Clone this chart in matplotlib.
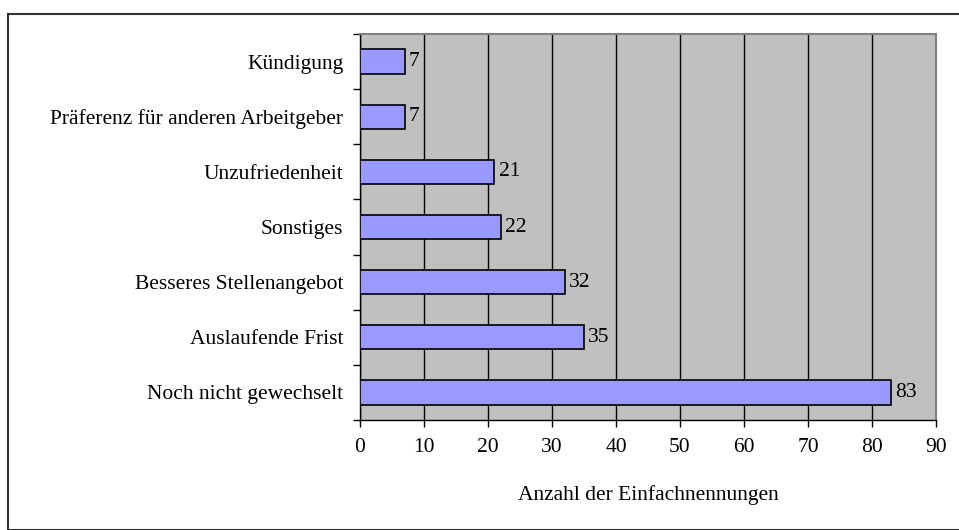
import matplotlib
matplotlib.use("Agg")
import matplotlib.pyplot as plt
from matplotlib.patches import Rectangle
import numpy as np

categories = [
    "Noch nicht gewechselt",
    "Auslaufende Frist",
    "Besseres Stellenangebot",
    "Sonstiges",
    "Unzufriedenheit",
    "Präferenz für anderen Arbeitgeber",
    "Kündigung",
]
counts = [83, 35, 32, 22, 21, 7, 7]
x_ticks = [0, 10, 20, 30, 40, 50, 60, 70, 80, 90]

plt.rcParams["font.family"] = ["Liberation Serif", "DejaVu Serif"]
FS = 15.5

fig = plt.figure(figsize=(9.59, 5.30), dpi=100)
fig.patches.append(Rectangle((8 / 959, 0), 1.0, 1 - 14 / 530, transform=fig.transFigure,
                             fill=False, edgecolor="#333333", linewidth=1.5, clip_on=False))

ax = fig.add_axes([360 / 959, 1 - 420 / 530, 576 / 959, 386 / 530])
ax.set_facecolor("#C0C0C0")

y = np.arange(len(categories))
ax.barh(y, counts, height=0.44, color="#9999FF", edgecolor="black", linewidth=1.2, zorder=3)
for yi, v in zip(y, counts):
    ax.annotate(str(v), (v, yi), xytext=(3, 0), textcoords="offset points",
                va="center", ha="left", fontsize=FS)

ax.set_xlim(0, 90)
ax.set_ylim(-0.5, len(categories) - 0.5)
ax.set_xticks(x_ticks)
ax.set_xticklabels([str(t) for t in x_ticks], fontsize=FS)
ax.set_yticks(y)
ax.set_yticklabels(categories, fontsize=FS)
ax.set_yticks(np.arange(-0.5, len(categories)), minor=True)
ax.tick_params(axis="y", which="major", length=0, pad=12)
ax.tick_params(axis="y", which="minor", length=5, width=1, direction="out")
ax.tick_params(axis="x", length=5, width=1, direction="out", pad=8)
ax.grid(axis="x", color="black", linewidth=1, zorder=1)
ax.set_axisbelow(True)

for side in ["top", "right"]:
    ax.spines[side].set_color("#808080")
    ax.spines[side].set_linewidth(1.5)
for side in ["left", "bottom"]:
    ax.spines[side].set_color("black")
    ax.spines[side].set_linewidth(1)

ax.set_xlabel("Anzahl der Einfachnennungen", fontsize=FS, labelpad=20)

fig.savefig("out.png", dpi=100)
